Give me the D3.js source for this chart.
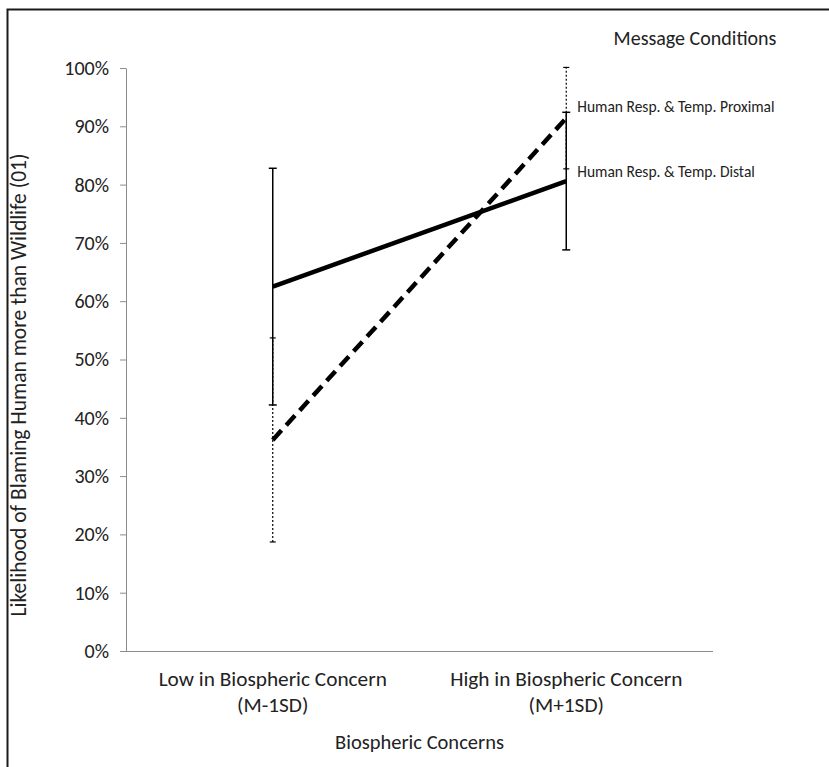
<!DOCTYPE html>
<html>
<head>
<meta charset="utf-8">
<script src="https://cdn.jsdelivr.net/npm/d3@7"></script>
<style>
  body { margin: 0; background: #fff; }
  svg { display: block; font-family: Carlito, Lato, "Open Sans", sans-serif; }
  .axis path, .axis line { stroke: #8c8c8c; }
  .axis text { fill: #222; }
</style>
</head>
<body>
<svg id="chart"></svg>
<script>
// Chart data
var categories = ['Low in Biospheric Concern|(M-1SD)', 'High in Biospheric Concern|(M+1SD)'];
var yTicks = [0, 0.1, 0.2, 0.3, 0.4, 0.5, 0.6, 0.7, 0.8, 0.9, 1.0];
var seriesNames = ['Human Resp. & Temp. Proximal', 'Human Resp. & Temp. Distal'];
var proximalValues = [0.362, 0.914];
var proximalErrors = [0.175, 0.087];
var distalValues = [0.625, 0.806];
var distalErrors = [0.203, 0.118];

var width = 829, height = 767;
var svg = d3.select('#chart').attr('width', width).attr('height', height);

// Outer frame (open at right and bottom, like the cropped original)
svg.append('rect')
    .attr('x', 7.5).attr('y', 9.5)
    .attr('width', 840).attr('height', 780)
    .attr('fill', 'none')
    .attr('stroke', '#1a1a1a')
    .attr('stroke-width', 2);

// Scales
var x = d3.scaleBand().domain(categories).range([126, 713]);
var y = d3.scaleLinear().domain([0, 1]).range([651, 68]);
var cx = function(i){ return x(categories[i]) + x.bandwidth() / 2 };

// Y axis
var yAxis = svg.append('g')
    .attr('class', 'axis')
    .attr('transform', 'translate(126,0)')
    .call(d3.axisLeft(y).tickValues(yTicks).tickFormat(d3.format('.0%')).tickSize(6).tickSizeOuter(0).tickPadding(11));
yAxis.selectAll('text').attr('font-size', '20px').attr('font-family', 'Carlito, Lato, sans-serif');

// X axis (no ticks, labels drawn separately on two lines)
var xAxis = svg.append('g')
    .attr('class', 'axis')
    .attr('transform', 'translate(0,651)')
    .call(d3.axisBottom(x).tickSize(0).tickFormat(''));
xAxis.select('.domain').attr('d', 'M126,0.5H713');

categories.forEach(function(c, i){
    var parts = c.split('|');
    var t = svg.append('text')
        .attr('x', cx(i))
        .attr('y', 686)
        .attr('text-anchor', 'middle')
        .attr('font-size', '21.3px')
        .attr('fill', '#222');
    parts.forEach(function(p, j){
        t.append('tspan').attr('x', cx(i)).attr('dy', j == 0 ? 0 : 26).text(p);
    });
});

// Axis titles
svg.append('text')
    .attr('x', cx(0) + (cx(1) - cx(0)) / 2)
    .attr('y', 749)
    .attr('text-anchor', 'middle')
    .attr('font-size', '20.5px')
    .attr('fill', '#222')
    .text('Biospheric Concerns');

svg.append('text')
    .attr('transform', 'translate(26,385) rotate(-90)')
    .attr('text-anchor', 'middle')
    .attr('font-size', '21.5px')
    .attr('fill', '#222')
    .text('Likelihood of Blaming Human more than Wildlife (01)');

svg.append('text')
    .attr('x', 695)
    .attr('y', 45)
    .attr('text-anchor', 'middle')
    .attr('font-size', '20px')
    .attr('fill', '#222')
    .text('Message Conditions');

// Error bars
function drawErrors(values, errors, dash, sw, cap){
    var g = svg.append('g');
    values.forEach(function(v, i){
        var lo = y(v - errors[i]), hi = y(v + errors[i]);
        g.append('line')
            .attr('x1', cx(i)).attr('x2', cx(i))
            .attr('y1', lo).attr('y2', hi)
            .attr('stroke', '#000').attr('stroke-width', sw)
            .attr('stroke-dasharray', dash);
        [lo, hi].forEach(function(yy){
            g.append('line')
                .attr('x1', cx(i) - cap).attr('x2', cx(i) + cap)
                .attr('y1', yy).attr('y2', yy)
                .attr('stroke', '#000').attr('stroke-width', sw);
        });
    });
}
drawErrors(proximalValues, proximalErrors, '2,2', 1.2, 3);
drawErrors(distalValues, distalErrors, null, 1.5, 4);

// Series lines
var line = d3.line()
    .x(function(d, i){ return cx(i) })
    .y(function(d){ return y(d) });

svg.append('path')
    .datum(distalValues)
    .attr('fill', 'none')
    .attr('stroke', '#000')
    .attr('stroke-width', 4.5)
    .attr('d', line);

svg.append('path')
    .datum(proximalValues)
    .attr('fill', 'none')
    .attr('stroke', '#000')
    .attr('stroke-width', 4.5)
    .attr('stroke-dasharray', '13,7')
    .attr('d', line);

// Series labels at the last point
[[proximalValues, seriesNames[0], -12], [distalValues, seriesNames[1], -10]].forEach(function(s){
    svg.append('text')
        .attr('x', cx(1) + 11)
        .attr('y', y(s[0][1]) + s[2])
        .attr('dy', '0.35em')
        .attr('font-size', '15.5px')
        .attr('fill', '#222')
        .text(s[1]);
});
</script>
</body>
</html>
